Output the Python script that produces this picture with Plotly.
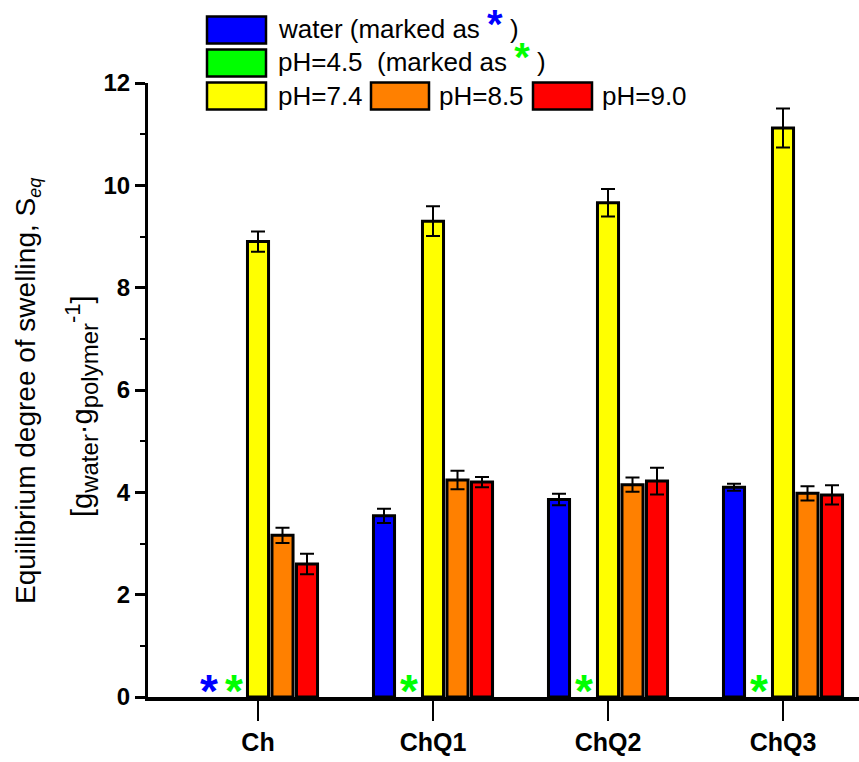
import plotly.graph_objects as go

categories = ["Ch", "ChQ1", "ChQ2", "ChQ3"]
series_names = ["water", "pH=4.5", "pH=7.4", "pH=8.5", "pH=9.0"]
colors = ["#0000FF", "#00FF00", "#FFFF00", "#FF8000", "#FF0000"]

water = [None, 3.54, 3.86, 4.10]
water_err = [None, 0.14, 0.11, 0.07]
ph45 = [None, None, None, None]
ph45_err = [None, None, None, None]
ph74 = [8.90, 9.30, 9.66, 11.12]
ph74_err = [0.20, 0.29, 0.27, 0.38]
ph85 = [3.16, 4.24, 4.15, 3.98]
ph85_err = [0.15, 0.18, 0.14, 0.14]
ph90 = [2.60, 4.20, 4.22, 3.95]
ph90_err = [0.20, 0.10, 0.26, 0.19]

values = [water, ph45, ph74, ph85, ph90]
errors = [water_err, ph45_err, ph74_err, ph85_err, ph90_err]

FONT = "Arial, Liberation Sans, sans-serif"

# plot-area pixel geometry (for decorations only)
L, R, T, B = 148, 859, 83, 697
W, H = R - L, B - T
def px(x):
    return (x - L) / W
def py(y):
    return (B - y) / H

fig = go.Figure()
xs = list(range(len(categories)))
for name, col, v, e in zip(series_names, colors, values, errors):
    fig.add_trace(go.Bar(
        x=xs, y=v, name=name,
        marker=dict(color=col, line=dict(color="black", width=3)),
        error_y=dict(type="data", array=e, visible=True, color="black",
                     thickness=2, width=7),
        showlegend=False,
    ))

bargap = 0.3
nser = len(series_names)
slot = (1 - bargap) / nser
annotations = []
# asterisks for series without measurable swelling
for k, v in enumerate(values):
    for i, val in enumerate(v):
        if val is None:
            annotations.append(dict(
                x=xs[i] + (k - (nser - 1) / 2) * slot, y=0.35, xref="x", yref="y",
                text="<b>*</b>", showarrow=False,
                font=dict(family=FONT, size=46, color=colors[k]),
                xanchor="center", yanchor="middle", yshift=-12))

# y-axis titles
annotations.append(dict(
    x=px(27), y=py(391), xref="paper", yref="paper", textangle=-90,
    text="Equilibrium degree of swelling, S<sub><i><span style='font-size:18px'>eq</span></i></sub>",
    showarrow=False,
    font=dict(family=FONT, size=28, color="black"), xanchor="center", yanchor="middle"))
annotations.append(dict(
    x=px(81), y=py(406), xref="paper", yref="paper", textangle=-90,
    text="[g<sub><span style='font-size:24px'>water</span></sub>·g"
         "<sub><span style='font-size:24px'>polymer</span></sub>"
         "<sup><span style='font-size:22px'>-1</span></sup>]",
    showarrow=False,
    font=dict(family=FONT, size=29, color="black"), xanchor="center", yanchor="middle"))

# legend (custom layout)
shapes = []
ast = "<span style='color:%s;font-size:40px'><b>*</b></span>"
legend_items = [
    (0, 207, 266, 30, 276, "water (marked as " + ast % colors[0] + " )", 6),
    (1, 207, 266, 63, 276, "pH=4.5  (marked as " + ast % colors[1] + " )", 6),
    (2, 207, 266, 96, 276, "pH=7.4", 0),
    (3, 371, 429, 96, 437, "pH=8.5", 0),
    (4, 533, 592, 96, 600, "pH=9.0", 0),
]
for k, x0, x1, yc, tx, txt, ys in legend_items:
    shapes.append(dict(type="rect", xref="paper", yref="paper",
                       x0=px(x0), x1=px(x1), y0=py(yc - 13.5), y1=py(yc + 13.5),
                       fillcolor=colors[k], line=dict(color="black", width=2.5)))
    annotations.append(dict(x=px(tx), y=py(yc), xref="paper", yref="paper", yshift=ys,
                            text=txt, showarrow=False, xanchor="left", yanchor="middle",
                            font=dict(family=FONT, size=26, color="black")))

fig.update_layout(
    width=859, height=762,
    margin=dict(l=L, r=859 - R, t=T, b=762 - B),
    paper_bgcolor="white", plot_bgcolor="white",
    barmode="group", bargap=bargap, bargroupgap=0.14,
    annotations=annotations, shapes=shapes,
    showlegend=False,
    font=dict(family=FONT, color="black"),
)
fig.update_xaxes(
    range=[-(258 - L) / 175, -(258 - L) / 175 + W / 175],
    tickmode="array", tickvals=xs, ticktext=["<b>%s</b>" % c for c in categories],
    tickfont=dict(family=FONT, size=25, color="black"),
    ticks="outside", ticklen=20, tickwidth=2, tickcolor="black",
    showline=True, linecolor="black", linewidth=4,
    showgrid=False, zeroline=False,
)
fig.update_yaxes(
    range=[0, 12], tickmode="array", tickvals=[0, 2, 4, 6, 8, 10, 12],
    ticktext=["<b>%d</b>" % v for v in [0, 2, 4, 6, 8, 10, 12]],
    tickfont=dict(family=FONT, size=24, color="black"),
    ticks="outside", ticklen=10, tickwidth=3, tickcolor="black",
    minor=dict(tickvals=[1, 3, 5, 7, 9, 11], ticks="outside", ticklen=5, tickwidth=2, tickcolor="black"),
    showline=True, linecolor="black", linewidth=3,
    showgrid=False, zeroline=False,
)

fig.write_html("out.html", config={"displayModeBar": False},
               post_script="document.body.style.margin='0px';")
